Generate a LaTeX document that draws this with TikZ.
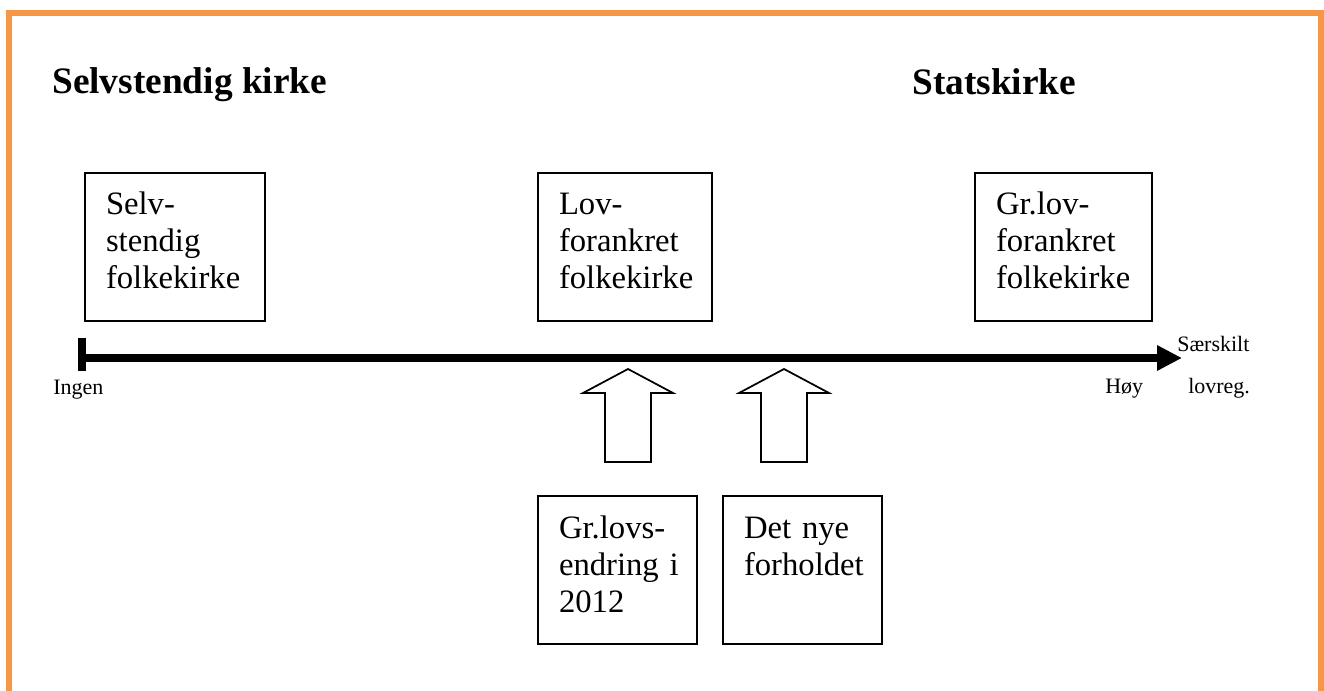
\documentclass[tikz,border=0pt]{standalone}
\usepackage{fontspec}
\setmainfont{Liberation Serif}
\usetikzlibrary{arrows.meta}
\definecolor{frameorange}{RGB}{247,150,70}
\tikzset{
  frame/.style={frameorange,line width=4.5pt,line join=miter},
  axis/.style={-{Triangle[length=18.75pt,width=18pt]},line width=6pt},
  tick/.style={line width=6pt},
  blockarrow/.style={draw=black,line width=1.3pt,fill=white,line join=miter},
  box/.style={draw=black,line width=1.3pt,anchor=north west,align=left,
              inner xsep=15.75pt,inner ysep=0pt,outer sep=0pt,
              text height=31.5pt,text depth=79.5pt,
              font=\fontsize{24.5}{27.75}\selectfont},
  heading/.style={anchor=base west,inner sep=0pt,font=\fontsize{28}{32}\selectfont\bfseries},
  lab/.style={anchor=base west,inner sep=0pt,font=\fontsize{16.5}{19}\selectfont},
}
\begin{document}
\begin{tikzpicture}[x=0.75pt,y=-0.75pt]
  \path[use as bounding box] (0,0) rectangle (1324,691);
  \draw[frame] (9,691) -- (9,13) -- (1321,13) -- (1321,691);

  \node[heading] (selvtitle) at (52,94) {Selvstendig kirke};
  \node[heading] (statstitle) at (912,95) {Statskirke};

  \node[box,text width=103.5pt] (selvkirke) at (85,173)
    {Selv-\\stendig\\folkekirke};
  \node[box,text width=99pt] (lovkirke) at (538,173)
    {Lov-\\forankret\\folkekirke};
  \node[box,text width=101.25pt] (grlovkirke) at (975,173)
    {Gr.lov-\\forankret\\folkekirke};
  \node[box,text width=87.75pt] (endring) at (538,496)
    {Gr.lovs-\\endring~i\\2012};
  \node[box,text width=87.75pt] (forhold) at (723,496)
    {Det~nye\\forholdet};

  \coordinate (ingen end) at (82,358);
  \coordinate (hoy end) at (1182,358);
  \draw[tick] (82,338) -- (82,371);
  \draw[axis] (ingen end) -- (hoy end);

  \node[lab] (ingen) at (53,394) {Ingen};
  \node[lab] (saerskilt) at (1177,352) {Særskilt};
  \node[lab] (hoy) at (1105,393) {Høy};
  \node[lab] (lovreg) at (1188,393) {lovreg.};

  \coordinate (tip endring) at (628,369);
  \coordinate (tip forhold) at (784,369);
  \foreach \t in {tip endring,tip forhold}
    \draw[blockarrow] (\t) -- ++(45,24) -- ++(-22,0) -- ++(0,69) -- ++(-46,0)
      -- ++(0,-69) -- ++(-22,0) -- cycle;
\end{tikzpicture}
\end{document}
